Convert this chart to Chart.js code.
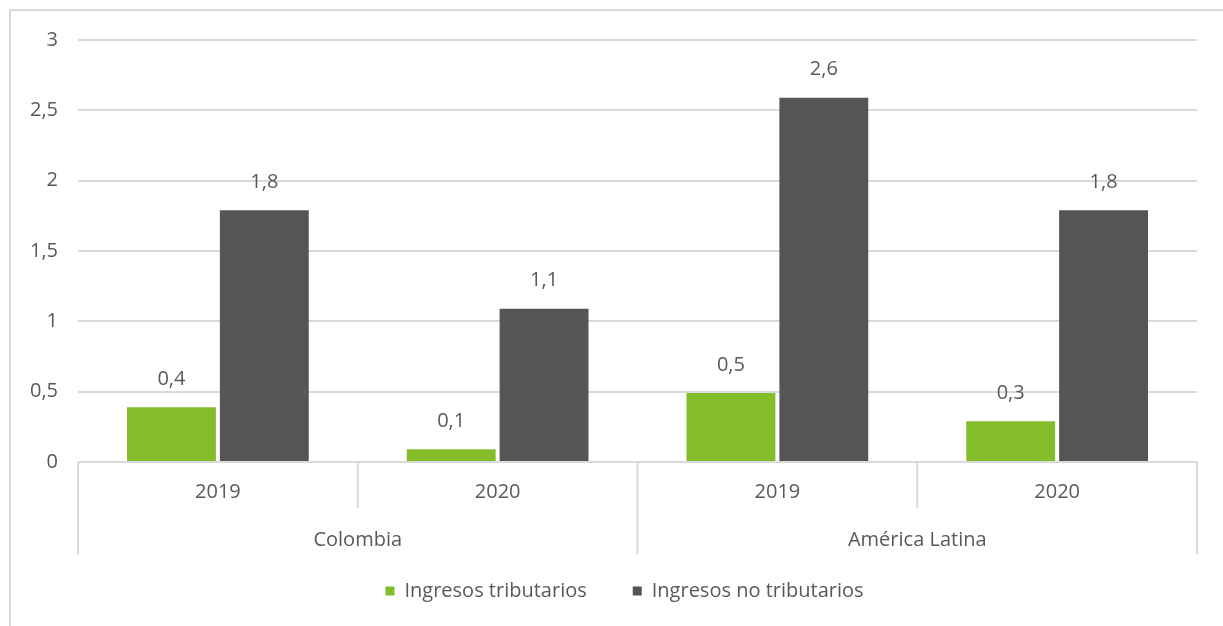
<!DOCTYPE html>
<html>
<head>
<meta charset="utf-8">
<script src="https://cdn.jsdelivr.net/npm/chart.js@4/dist/chart.umd.min.js"></script>
<style>
  html, body { margin: 0; padding: 0; background: #fff; overflow: hidden; }
  #frame { position: absolute; left: 9px; top: 9px; width: 1400px; height: 800px; border: 2px solid #d9d9d9; }
  #chart { position: absolute; left: 0; top: 0; }
</style>
</head>
<body>
<div id="frame"></div>
<canvas id="chart" width="1223" height="626"></canvas>
<script>
const years = ['2019', '2020', '2019', '2020'];
const groups = ['Colombia', 'América Latina'];
const tributarios = [0.39, 0.09, 0.49, 0.29];
const noTributarios = [1.79, 1.09, 2.59, 1.79];
const yTicks = [0, 0.5, 1, 1.5, 2, 2.5, 3];

const textColor = '#595959';
const lineColor = '#d9d9d9';
const fontFamily = '"Open Sans", sans-serif';
const fontSize = 20;

const fmt = v => String(v).replace('.', ',');

// etiquetas de valor, líneas de separación y nombres de grupo
const extras = {
  id: 'extras',
  afterLayout(chart) {
    // la leyenda va centrada en el marco, no en el área del gráfico
    chart.legend.left += 26;
    chart.legend.right += 26;
  },
  afterDatasetsDraw(chart) {
    const ctx = chart.ctx;
    ctx.save();
    ctx.font = `${fontSize}px ${fontFamily}`;
    ctx.fillStyle = textColor;
    ctx.textAlign = 'center';
    ctx.textBaseline = 'middle';
    chart.data.datasets.forEach((ds, i) => {
      chart.getDatasetMeta(i).data.forEach((bar, j) => {
        ctx.fillText(fmt(ds.data[j].toFixed(1)), bar.x, bar.y - 28);
      });
    });

    const x = chart.scales.x;
    const base = chart.scales.y.getPixelForValue(0);
    const half = (x.getPixelForValue(1) - x.getPixelForValue(0)) / 2;
    ctx.strokeStyle = lineColor;
    ctx.lineWidth = 2;
    ctx.beginPath();
    ctx.moveTo(x.left, base);
    ctx.lineTo(x.right, base);
    for (let i = 0; i <= years.length; i++) {
      const px = x.getPixelForValue(0) - half + i * 2 * half;
      const end = i % 2 === 0 ? base + 92 : base + 46;
      ctx.moveTo(px, base);
      ctx.lineTo(px, end);
    }
    ctx.stroke();

    groups.forEach((g, k) => {
      const cx = (x.getPixelForValue(2 * k) + x.getPixelForValue(2 * k + 1)) / 2;
      ctx.fillText(g, cx, base + 78);
    });
    ctx.restore();
  }
};

new Chart(document.getElementById('chart'), {
  type: 'bar',
  data: {
    labels: years,
    datasets: [
      { label: 'Ingresos tributarios', data: tributarios, backgroundColor: '#84bd2a' },
      { label: 'Ingresos no tributarios', data: noTributarios, backgroundColor: '#555555' }
    ]
  },
  options: {
    responsive: false,
    animation: false,
    categoryPercentage: 0.664,
    barPercentage: 0.957,
    layout: { padding: { top: 40, right: 26, left: 0, bottom: 15 } },
    plugins: {
      tooltip: { enabled: false },
      legend: {
        position: 'bottom',
        labels: {
          boxWidth: 9,
          boxHeight: 9,
          padding: 46,
          color: textColor,
          font: { family: fontFamily, size: fontSize }
        }
      }
    },
    scales: {
      x: {
        grid: { display: false },
        border: { display: false },
        ticks: { color: textColor, padding: 10, font: { family: fontFamily, size: fontSize } },
        afterFit: s => { s.height = 73; }
      },
      y: {
        min: 0,
        max: 3,
        afterBuildTicks: s => { s.ticks = yTicks.map(v => ({ value: v })); },
        grid: { color: lineColor, lineWidth: 2, drawTicks: false },
        border: { display: false },
        ticks: { color: textColor, padding: 20, font: { family: fontFamily, size: fontSize }, callback: v => fmt(v) },
        afterFit: s => { s.width = 78; }
      }
    }
  },
  plugins: [extras]
});
</script>
</body>
</html>
